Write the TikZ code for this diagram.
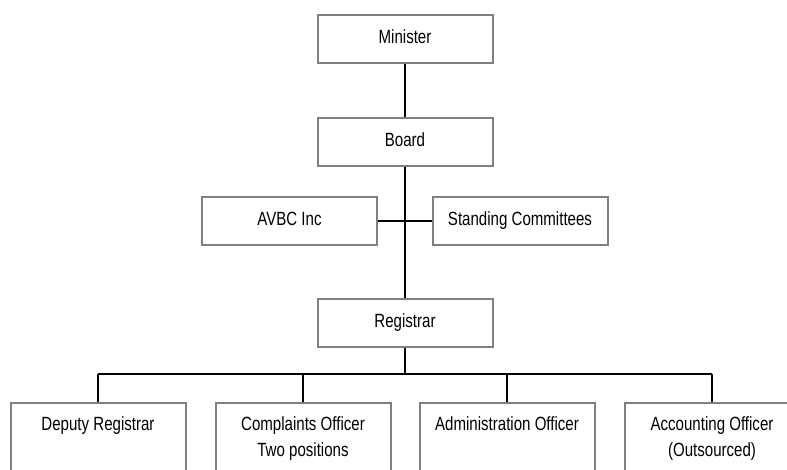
\documentclass[tikz,border=0pt]{standalone}
\usepackage{fontspec}
\setmainfont{Liberation Sans}
\newcommand{\tall}[1]{\scalebox{1}[1.27]{#1}}
\begin{document}
\begin{tikzpicture}[x=0.75pt,y=-0.75pt,
  box/.style={draw=black!50,line width=1.5pt,fill=white,minimum width=175*0.75pt,minimum height=48*0.75pt,inner sep=0pt,text height=10.5pt,text depth=3.75pt,font=\fontsize{11.3pt}{19.5pt}\selectfont},
  lowbox/.style={draw=black!50,line width=1.5pt,minimum width=175*0.75pt,minimum height=90*0.75pt,inner sep=0pt,anchor=north},
  lbl/.style={font=\fontsize{11.3pt}{19.5pt}\selectfont,align=center,anchor=base,inner sep=0pt},
  conn/.style={draw=black,line width=1.5pt}]
\useasboundingbox (0,0) rectangle (787,469);
\clip (0,0) rectangle (787,469);
\node[box] (min) at (405,39) {\tall{Minister}};
\node[box] (board) at (405,142) {\tall{Board}};
\node[box] (avbc) at (289.5,221) {\tall{AVBC Inc}};
\node[box] (stc) at (520,221) {\tall{Standing Committees}};
\node[box] (reg) at (405,322.5) {\tall{Registrar}};
\coordinate (bus) at (405,374);
\coordinate (busL) at (98,374);
\coordinate (busR) at (712,374);
\node[lowbox] (dep) at (98,402) {};
\node[lowbox] (comp) at (303,402) {};
\node[lowbox] (adm) at (507,402) {};
\node[lowbox] (acc) at (712,402) {};
% single-line labels: baseline at 430; two-line labels: last baseline at 456
\node[lbl] (tdep) at (98,430) {\tall{Deputy Registrar}};
\node[lbl] (tcomp) at (303,456) {\tall{Complaints Officer}\\\tall{Two positions}};
\node[lbl] (tadm) at (507,430) {\tall{Administration Officer}};
\node[lbl] (tacc) at (712,456) {\tall{Accounting Officer}\\\tall{(Outsourced)}};
\draw[conn] (min.south) -- (board.north);
\draw[conn] (board.south) -- (reg.north);
\draw[conn] (avbc.east) -- (stc.west);
\draw[conn] (reg.south) -- (bus);
\draw[conn] (busL) -- (busR);
\draw[conn] (busL) -- (dep.north);
\draw[conn] (comp.north |- bus) -- (comp.north);
\draw[conn] (adm.north |- bus) -- (adm.north);
\draw[conn] (busR) -- (acc.north);
\end{tikzpicture}
\end{document}
